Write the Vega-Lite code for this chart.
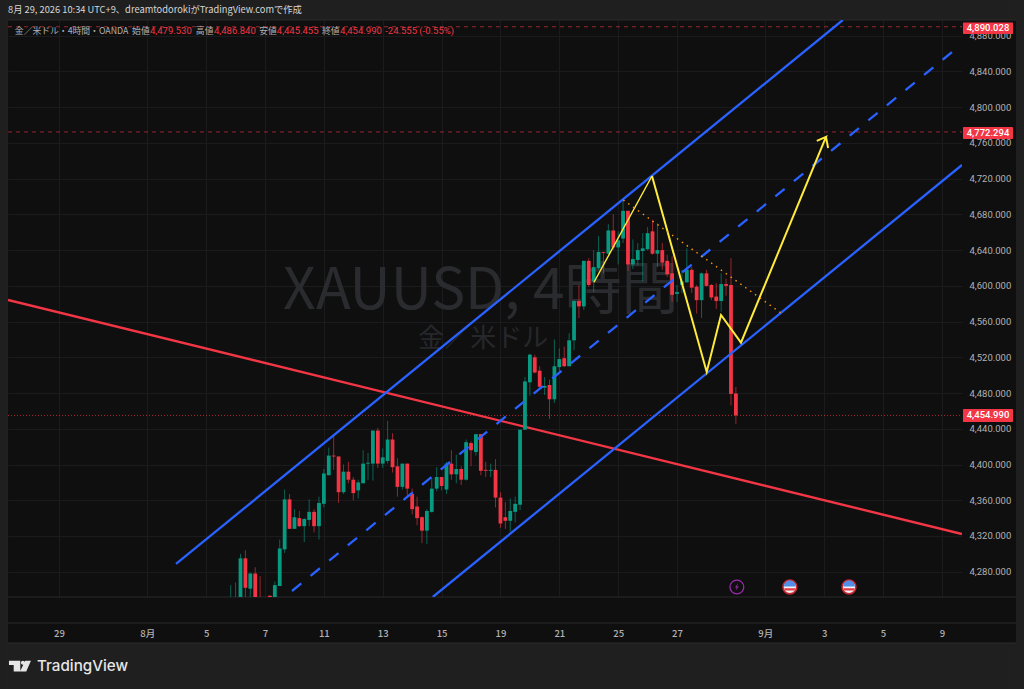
{"$schema":"https://vega.github.io/schema/vega-lite/v6.json","width":954,"height":577,"autosize":{"type":"none"},"padding":{"left":8,"top":20,"right":62,"bottom":92},"background":"#0f0f0f","view":{"stroke":null},
"datasets":{
"candles":[
{"b":35,"o":4235,"h":4265,"l":4230,"c":4245,"dir":"up"},{"b":36,"o":4235,"h":4268,"l":4230,"c":4248,"dir":"up"},{"b":37,"o":4245,"h":4300,"l":4235,"c":4295,"dir":"up"},{"b":38,"o":4295,"h":4304,"l":4240,"c":4262,"dir":"down"},{"b":39,"o":4261,"h":4279,"l":4240,"c":4278,"dir":"up"},{"b":40,"o":4278,"h":4285,"l":4235,"c":4240,"dir":"down"},{"b":41,"o":4245,"h":4275,"l":4230,"c":4235,"dir":"down"},{"b":43,"o":4253,"h":4254,"l":4230,"c":4235,"dir":"down"},{"b":44,"o":4240,"h":4269,"l":4235,"c":4265,"dir":"up"},{"b":45,"o":4264,"h":4316,"l":4264,"c":4306,"dir":"up"},
{"b":46,"o":4305,"h":4372,"l":4301,"c":4361,"dir":"up"},{"b":47,"o":4361,"h":4367,"l":4328,"c":4328,"dir":"down"},{"b":48,"o":4328,"h":4350,"l":4328,"c":4341,"dir":"up"},{"b":49,"o":4340,"h":4348,"l":4330,"c":4331,"dir":"down"},{"b":50,"o":4331,"h":4340,"l":4313,"c":4339,"dir":"up"},{"b":51,"o":4338,"h":4361,"l":4331,"c":4347,"dir":"up"},{"b":52,"o":4347,"h":4350,"l":4324,"c":4331,"dir":"down"},{"b":53,"o":4331,"h":4364,"l":4316,"c":4357,"dir":"up"},{"b":54,"o":4356,"h":4395,"l":4352,"c":4390,"dir":"up"},{"b":55,"o":4388,"h":4419,"l":4388,"c":4410,"dir":"up"},
{"b":56,"o":4410,"h":4434,"l":4394,"c":4409,"dir":"down"},{"b":57,"o":4409,"h":4409,"l":4357,"c":4369,"dir":"down"},{"b":58,"o":4369,"h":4400,"l":4367,"c":4392,"dir":"up"},{"b":59,"o":4392,"h":4403,"l":4379,"c":4383,"dir":"down"},{"b":60,"o":4383,"h":4386,"l":4360,"c":4368,"dir":"down"},{"b":61,"o":4371,"h":4383,"l":4362,"c":4380,"dir":"up"},{"b":62,"o":4379,"h":4416,"l":4379,"c":4401,"dir":"up"},{"b":63,"o":4401,"h":4413,"l":4383,"c":4402,"dir":"up"},{"b":64,"o":4401,"h":4438,"l":4382,"c":4438,"dir":"up"},{"b":65,"o":4438,"h":4441,"l":4396,"c":4401,"dir":"down"},
{"b":66,"o":4401,"h":4418,"l":4396,"c":4408,"dir":"up"},{"b":67,"o":4404,"h":4449,"l":4401,"c":4428,"dir":"up"},{"b":68,"o":4428,"h":4435,"l":4391,"c":4397,"dir":"down"},{"b":69,"o":4398,"h":4407,"l":4364,"c":4375,"dir":"down"},{"b":70,"o":4375,"h":4401,"l":4372,"c":4401,"dir":"up"},{"b":71,"o":4401,"h":4401,"l":4363,"c":4373,"dir":"down"},{"b":72,"o":4367,"h":4373,"l":4344,"c":4350,"dir":"down"},{"b":73,"o":4353,"h":4364,"l":4332,"c":4340,"dir":"down"},{"b":74,"o":4341,"h":4342,"l":4312,"c":4326,"dir":"down"},{"b":75,"o":4326,"h":4350,"l":4311,"c":4348,"dir":"up"},
{"b":76,"o":4347,"h":4385,"l":4346,"c":4373,"dir":"up"},{"b":77,"o":4373,"h":4397,"l":4370,"c":4386,"dir":"up"},{"b":78,"o":4386,"h":4386,"l":4371,"c":4376,"dir":"down"},{"b":79,"o":4372,"h":4403,"l":4367,"c":4401,"dir":"up"},{"b":80,"o":4401,"h":4416,"l":4383,"c":4389,"dir":"down"},{"b":81,"o":4389,"h":4411,"l":4379,"c":4395,"dir":"up"},{"b":82,"o":4395,"h":4398,"l":4377,"c":4383,"dir":"down"},{"b":83,"o":4383,"h":4428,"l":4382,"c":4425,"dir":"up"},{"b":84,"o":4424,"h":4426,"l":4398,"c":4416,"dir":"down"},{"b":85,"o":4414,"h":4434,"l":4410,"c":4434,"dir":"up"},
{"b":86,"o":4434,"h":4434,"l":4388,"c":4393,"dir":"down"},{"b":87,"o":4394,"h":4403,"l":4386,"c":4393,"dir":"down"},{"b":88,"o":4393,"h":4401,"l":4386,"c":4394,"dir":"up"},{"b":89,"o":4394,"h":4406,"l":4352,"c":4363,"dir":"down"},{"b":90,"o":4363,"h":4369,"l":4329,"c":4334,"dir":"down"},{"b":91,"o":4341,"h":4358,"l":4328,"c":4337,"dir":"down"},{"b":92,"o":4337,"h":4362,"l":4325,"c":4348,"dir":"up"},{"b":93,"o":4347,"h":4364,"l":4335,"c":4356,"dir":"up"},{"b":94,"o":4355,"h":4439,"l":4349,"c":4439,"dir":"up"},{"b":95,"o":4439,"h":4498,"l":4439,"c":4493,"dir":"up"},
{"b":96,"o":4492,"h":4524,"l":4477,"c":4523,"dir":"up"},{"b":97,"o":4520,"h":4523,"l":4502,"c":4503,"dir":"down"},{"b":98,"o":4505,"h":4510,"l":4485,"c":4487,"dir":"down"},{"b":99,"o":4486,"h":4498,"l":4478,"c":4488,"dir":"up"},{"b":100,"o":4489,"h":4495,"l":4451,"c":4473,"dir":"down"},{"b":101,"o":4473,"h":4540,"l":4469,"c":4510,"dir":"up"},{"b":102,"o":4509,"h":4530,"l":4504,"c":4518,"dir":"up"},{"b":103,"o":4519,"h":4532,"l":4509,"c":4510,"dir":"down"},{"b":104,"o":4510,"h":4547,"l":4510,"c":4539,"dir":"up"},{"b":105,"o":4539,"h":4584,"l":4528,"c":4583,"dir":"up"},
{"b":106,"o":4583,"h":4601,"l":4564,"c":4577,"dir":"down"},{"b":107,"o":4577,"h":4628,"l":4573,"c":4628,"dir":"up"},{"b":108,"o":4628,"h":4631,"l":4599,"c":4601,"dir":"down"},{"b":109,"o":4605,"h":4640,"l":4593,"c":4621,"dir":"up"},{"b":110,"o":4620,"h":4656,"l":4618,"c":4638,"dir":"up"},{"b":111,"o":4638,"h":4638,"l":4614,"c":4637,"dir":"down"},{"b":112,"o":4636,"h":4669,"l":4636,"c":4662,"dir":"up"},{"b":113,"o":4662,"h":4680,"l":4640,"c":4643,"dir":"down"},{"b":114,"o":4643,"h":4661,"l":4624,"c":4651,"dir":"up"},{"b":115,"o":4653,"h":4697,"l":4648,"c":4684,"dir":"up"},
{"b":116,"o":4684,"h":4684,"l":4617,"c":4624,"dir":"down"},{"b":117,"o":4624,"h":4652,"l":4619,"c":4630,"dir":"up"},{"b":118,"o":4629,"h":4648,"l":4623,"c":4640,"dir":"up"},{"b":119,"o":4639,"h":4659,"l":4605,"c":4642,"dir":"up"},{"b":120,"o":4641,"h":4666,"l":4640,"c":4659,"dir":"up"},{"b":121,"o":4661,"h":4674,"l":4635,"c":4636,"dir":"down"},{"b":122,"o":4636,"h":4670,"l":4621,"c":4640,"dir":"up"},{"b":123,"o":4640,"h":4648,"l":4618,"c":4626,"dir":"down"},{"b":124,"o":4628,"h":4635,"l":4610,"c":4613,"dir":"down"},{"b":125,"o":4614,"h":4633,"l":4582,"c":4590,"dir":"down"},
{"b":126,"o":4591,"h":4601,"l":4582,"c":4593,"dir":"up"},{"b":127,"o":4601,"h":4618,"l":4592,"c":4605,"dir":"up"},{"b":128,"o":4604,"h":4642,"l":4603,"c":4618,"dir":"up"},{"b":129,"o":4618,"h":4621,"l":4592,"c":4598,"dir":"down"},{"b":130,"o":4599,"h":4601,"l":4569,"c":4584,"dir":"down"},{"b":131,"o":4584,"h":4615,"l":4564,"c":4614,"dir":"up"},{"b":132,"o":4614,"h":4618,"l":4599,"c":4600,"dir":"down"},{"b":133,"o":4601,"h":4602,"l":4584,"c":4587,"dir":"down"},{"b":134,"o":4588,"h":4603,"l":4574,"c":4583,"dir":"down"},{"b":135,"o":4583,"h":4614,"l":4571,"c":4602,"dir":"up"},
{"b":136,"o":4602,"h":4608,"l":4589,"c":4600,"dir":"down"},{"b":137,"o":4601,"h":4631,"l":4466,"c":4479,"dir":"down"},{"b":138,"o":4479.53,"h":4486.84,"l":4445.455,"c":4454.99,"dir":"down"}],
"frame":[{"b":-12.03,"b2":196.76,"p":4897.6,"p2":4920},{"b":-12.03,"b2":196.76,"p":4148.7,"p2":4200.2},{"b":-12.03,"b2":-10.4,"p":4148.7,"p2":4920},{"b":195.1,"b2":196.76,"p":4148.7,"p2":4920}],
"seps":[{"b":-10.4,"b2":195.1,"p":4251.7},{"b":-10.4,"b2":195.1,"p":4222.6},{"b":-10.4,"b2":195.1,"p":4200.2},{"b":-10.4,"b2":195.1,"p":4897.6}],
"levels":[{"b":-10.4,"b2":184.1,"p":4890.028,"kind":"target"},{"b":-10.4,"b2":184.1,"p":4772.294,"kind":"target"},{"b":-10.4,"b2":184.1,"p":4454.99,"kind":"last"}],
"channels":[{"ch":"upper","b":23.85,"p":4288.7},{"ch":"upper","b":159.8,"p":4897.6},{"ch":"lower","b":76.2,"p":4251.7},{"ch":"lower","b":184.1,"p":4735.3}],
"midline":[{"b":47.5,"p":4258.4},{"b":183.1,"p":4866.3}],
"redline":[{"b":-10.4,"p":4584.2},{"b":184.1,"p":4322.2}],
"yellow":[{"n":1,"seg":"thin","b":109.07,"p":4604},{"n":2,"seg":"thin","b":120.9,"p":4723},{"n":3,"seg":"main","b":120.9,"p":4723},{"n":4,"seg":"main","b":132.05,"p":4503.6},{"n":5,"seg":"main","b":134.97,"p":4567.4},{"n":6,"seg":"main","b":139.04,"p":4536.4},{"n":7,"seg":"main","b":156.37,"p":4766.7},{"n":8,"seg":"main","b":154.5,"p":4762.2},{"n":9,"seg":"main","b":156.37,"p":4766.7},{"n":10,"seg":"main","b":156.8,"p":4754.3}],
"orange":[{"b":115.05,"p":4696.1},{"b":147.2,"p":4569.6}],
"legendGrey":[{"b":-9,"p":4885.3,"t":"金／米ドル・4時間・OANDA"},{"b":14.9,"p":4885.3,"t":"始値"},{"b":27.9,"p":4885.3,"t":"高値"},{"b":40.8,"p":4885.3,"t":"安値"},{"b":53.6,"p":4885.3,"t":"終値"}],
"legendRed":[{"b":18.55,"p":4885.3,"t":"4,479.530"},{"b":31.6,"p":4885.3,"t":"4,486.840"},{"b":44.4,"p":4885.3,"t":"4,445.455"},{"b":57.3,"p":4885.3,"t":"4,454.990"},{"b":66.5,"p":4885.3,"t":"-24.555 (-0.55%)"}],
"tags":[{"b":184.3,"b2":194.5,"p":4882,"p2":4894.8,"pm":4888.2,"bm":189.4,"t":"4,890.028"},{"b":184.3,"b2":194.5,"p":4764.4,"p2":4777.9,"pm":4771,"bm":189.4,"t":"4,772.294"},{"b":184.3,"b2":194.5,"p":4447.6,"p2":4462.2,"pm":4454.9,"bm":189.4,"t":"4,454.990"}],
"flags":[{"b":149,"p":4262.9},{"b":161.06,"p":4262.9}]},
"encoding":{
"x":{"field":"b","type":"quantitative","scale":{"domain":[-10.4,184.1],"nice":false,"zero":false},"axis":{"title":null,"values":[0,18,30,42,54,66,78,90,102,114,126,144,156,168,180],"labelExpr":"({'0':'29','18':'8月','30':'5','42':'7','54':'11','66':'13','78':'15','90':'19','102':'21','114':'25','126':'27','144':'9月','156':'3','168':'5','180':'9'})[datum.value]","labelPadding":31,"labelFont":"Noto Sans CJK JP","labelFontSize":9.5,"labelFontWeight":500,"labelColor":"#b2b2b2","domain":false,"ticks":false,"grid":true,"gridColor":"#1b1b1d","labelOverlap":false}},
"y":{"field":"p","type":"quantitative","scale":{"domain":[4251.7,4897.6],"nice":false,"zero":false},"axis":{"title":null,"orient":"right","values":[4280,4320,4360,4400,4440,4480,4520,4560,4600,4640,4680,4720,4760,4800,4840,4880],"format":",.3f","labelPadding":7,"labelFont":"Roboto","labelFontSize":9.5,"labelColor":"#b2b2b2","domain":false,"ticks":false,"grid":true,"gridColor":"#1b1b1d","labelOverlap":false,"labelBound":false}}},
"layer":[
{"data":{"name":"frame"},"mark":{"type":"rect","fill":"#1f1f1f","clip":false},"encoding":{"x2":{"field":"b2"},"y2":{"field":"p2"}}},
{"data":{"name":"seps"},"mark":{"type":"rule","stroke":"#2a2a2c","strokeWidth":1,"clip":false},"encoding":{"x2":{"field":"b2"}}},
{"data":{"values":[{"b":86,"p":4593,"t":"XAUUSD, 4時間"}]},"mark":{"type":"text","font":"Noto Sans CJK JP","fontSize":57,"fill":"#2a2b2f","align":"center","baseline":"middle"},"encoding":{"text":{"field":"t"}}},
{"data":{"values":[{"b":86.5,"p":4540.5,"t":"金／米ドル"}]},"mark":{"type":"text","font":"Noto Sans CJK JP","fontSize":26,"fill":"#26272b","align":"center","baseline":"middle"},"encoding":{"text":{"field":"t"}}},
{"data":{"name":"levels"},"mark":{"type":"rule","stroke":"#f23645","strokeWidth":1},"encoding":{"x2":{"field":"b2"},"strokeDash":{"field":"kind","scale":{"domain":["target","last"],"range":[[4,4],[1,2]]},"legend":null},"opacity":{"field":"kind","scale":{"domain":["target","last"],"range":[0.6,0.7]},"legend":null}}},
{"data":{"name":"redline"},"mark":{"type":"line","stroke":"#f23645","strokeWidth":2.4,"clip":true},"encoding":{}},
{"data":{"name":"candles"},"mark":{"type":"rule","strokeWidth":1,"opacity":0.6,"clip":true},"encoding":{"y":{"field":"l","type":"quantitative","title":null},"y2":{"field":"h"},"color":{"field":"dir","scale":{"domain":["up","down"],"range":["#089981","#f23645"]},"legend":null}}},
{"data":{"name":"candles"},"mark":{"type":"rule","strokeWidth":3.8,"clip":true},"encoding":{"y":{"field":"o","type":"quantitative","title":null},"y2":{"field":"c"},"color":{"field":"dir","scale":{"domain":["up","down"],"range":["#089981","#f23645"]},"legend":null}}},
{"data":{"name":"channels"},"mark":{"type":"line","stroke":"#2962ff","strokeWidth":2.3,"clip":true},"encoding":{"detail":{"field":"ch"}}},
{"data":{"name":"midline"},"mark":{"type":"line","stroke":"#2962ff","strokeWidth":2.3,"strokeDash":[12,12],"clip":true},"encoding":{}},
{"data":{"name":"yellow"},"mark":{"type":"line","stroke":"#ffeb3b","clip":true},"encoding":{"order":{"field":"n","type":"quantitative"},"strokeWidth":{"field":"seg","scale":{"domain":["thin","main"],"range":[1.4,2]},"legend":null}}},
{"data":{"name":"orange"},"mark":{"type":"line","stroke":"#ff9800","strokeWidth":1.4,"strokeDash":[1.5,4.5],"clip":true},"encoding":{}},
{"data":{"name":"legendGrey"},"mark":{"type":"text","font":"Noto Sans CJK JP","fontSize":8.8,"fill":"#b2b2b2","align":"left","baseline":"middle"},"encoding":{"text":{"field":"t"}}},
{"data":{"name":"legendRed"},"mark":{"type":"text","font":"Roboto","fontSize":9.5,"fill":"#f23645","align":"left","baseline":"middle"},"encoding":{"text":{"field":"t"}}},
{"data":{"name":"tags"},"mark":{"type":"rect","fill":"#f23645","clip":false,"cornerRadius":1},"encoding":{"x2":{"field":"b2"},"y2":{"field":"p2"}}},
{"data":{"name":"tags"},"mark":{"type":"text","font":"Roboto","fontSize":9.5,"fontWeight":500,"fill":"#ffffff","align":"center","baseline":"middle","clip":false},"encoding":{"x":{"field":"bm","type":"quantitative","title":null},"y":{"field":"pm","type":"quantitative","title":null},"text":{"field":"t"}}},
{"data":{"values":[{"b":138.2,"p":4262.9}]},"mark":{"type":"point","shape":"circle","size":190,"filled":false,"stroke":"#9c27b0","strokeWidth":1.3,"opacity":1},"encoding":{}},
{"data":{"values":[{"b":138.2,"p":4262.9}]},"mark":{"type":"point","shape":"M0.25,-0.75 L-0.4,0.12 L-0.02,0.12 L-0.25,0.75 L0.4,-0.12 L0.02,-0.12 Z","size":100,"filled":true,"fill":"#9c27b0","opacity":1},"encoding":{}},
{"data":{"name":"flags"},"mark":{"type":"point","shape":"circle","size":190,"filled":true,"fill":"#f0f0f0","stroke":"#c62833","strokeWidth":1.6,"opacity":1},"encoding":{}},
{"data":{"name":"flags"},"mark":{"type":"point","shape":"M-0.9,-0.08 A0.9,0.9 0 0 1 0.9,-0.08 Z","size":170,"filled":true,"fill":"#4f8fe8","opacity":1},"encoding":{}},
{"data":{"name":"flags"},"mark":{"type":"point","shape":"M-0.88,0.2 L0.88,0.2 L0.72,0.52 L-0.72,0.52 Z","size":170,"filled":true,"fill":"#e53945","opacity":1},"encoding":{}},
{"data":{"values":[{"b":-10.4,"p":4908.8,"t":"8月 29, 2026 10:34 UTC+9、dreamtodorokiがTradingView.comで作成"}]},"mark":{"type":"text","font":"Noto Sans CJK JP","fontSize":9.3,"fill":"#d6d6d6","align":"left","baseline":"middle","clip":false},"encoding":{"text":{"field":"t"}}},
{"data":{"values":[{"b":-7.96,"p":4174.5}]},"mark":{"type":"point","shape":"M-1,-0.48 L0.03,-0.48 L0.03,0.5 L-0.57,0.5 L-0.57,-0.09 L-1,-0.09 Z M0.09,-0.3 A0.18,0.18 0 1 1 0.45,-0.3 A0.18,0.18 0 1 1 0.09,-0.3 Z M0.48,-0.48 L1,-0.48 L0.57,0.5 L0,0.5 Z","size":484,"filled":true,"fill":"#e6e6e6","opacity":1,"clip":false},"encoding":{}},
{"data":{"values":[{"b":-4.49,"p":4174.5,"t":"TradingView"}]},"mark":{"type":"text","font":"Inter","fontSize":15.2,"fontWeight":500,"fill":"#e6e6e6","align":"left","baseline":"middle","clip":false},"encoding":{"text":{"field":"t"}}}
]}
